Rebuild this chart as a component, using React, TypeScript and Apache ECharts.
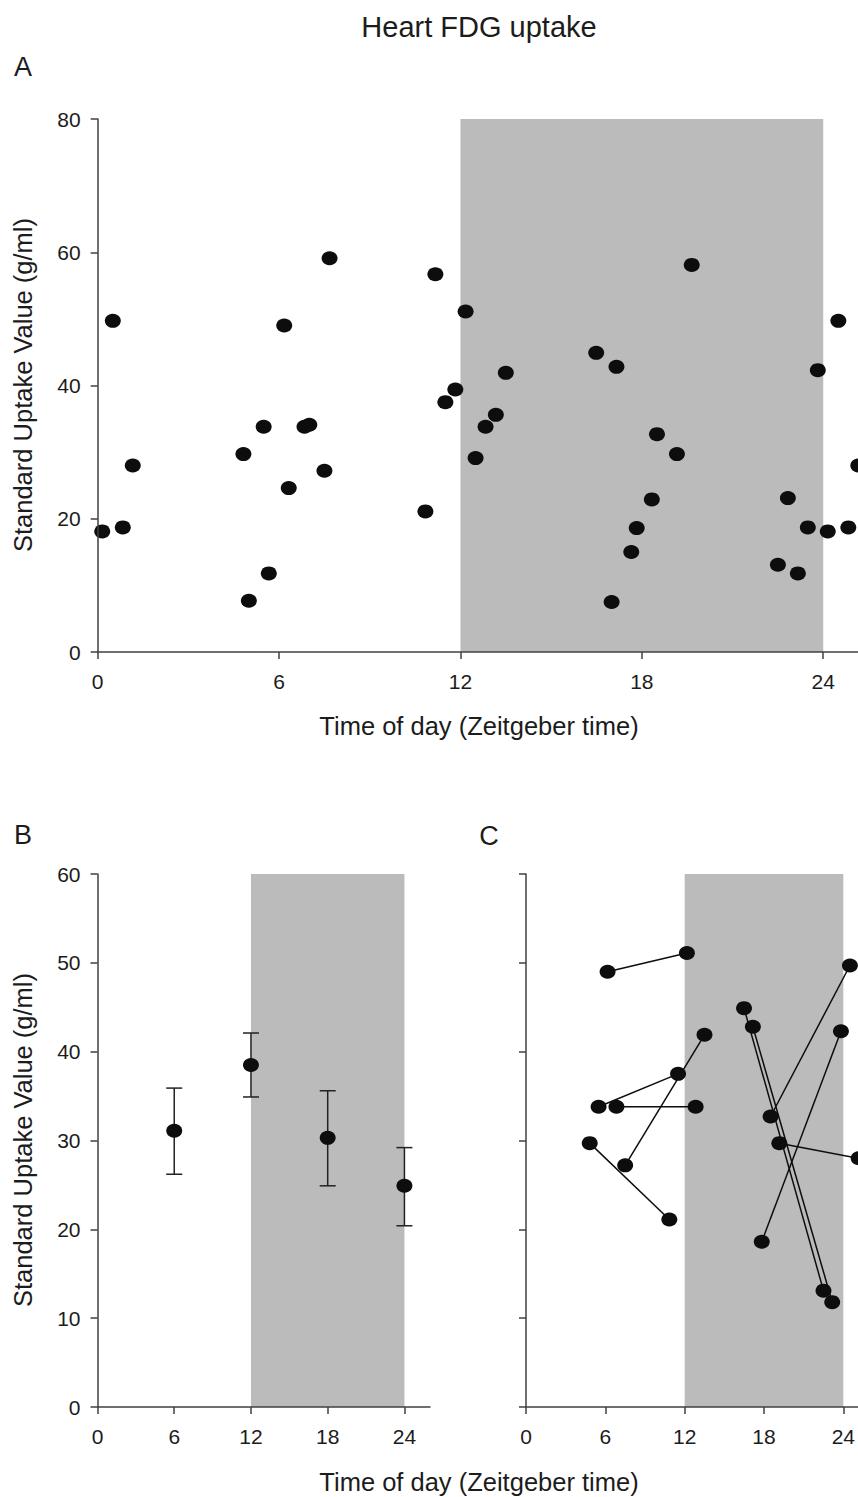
import React, { useEffect, useRef } from "react";
import * as echarts from "echarts";

// ---------- data ----------
const chartTitle = "Heart FDG uptake";
const xAxisTitle = "Time of day (Zeitgeber time)";
const yAxisTitle = "Standard Uptake Value (g/ml)";
const panelLabels = ["A", "B", "C"];

const xTicks = [0, 6, 12, 18, 24];
const aYTicks = [0, 20, 40, 60, 80];
const bcYTicks = [0, 10, 20, 30, 40, 50, 60];
const darkStart = 12;
const darkEnd = 24;

// Panel A: individual measurements (time in h, SUV in g/ml)
const aTime = [
  0.15, 0.5, 0.83, 1.16, 4.82, 5.0, 5.49, 5.66, 6.17, 6.32, 6.84, 7.0, 7.5, 7.67,
  10.84, 11.17, 11.5, 11.83, 12.17, 12.5, 12.83, 13.17, 13.5, 16.49, 17.0, 17.16,
  17.65, 17.83, 18.33, 18.5, 19.16, 19.65, 22.5, 22.83, 23.16, 23.49, 23.82,
  24.15, 24.5, 24.83, 25.16,
];
const aSUV = [
  18.1, 49.7, 18.7, 28.0, 29.7, 7.7, 33.8, 11.8, 49.0, 24.6, 33.8, 34.1, 27.2, 59.1,
  21.1, 56.7, 37.5, 39.4, 51.1, 29.1, 33.8, 35.6, 41.9, 44.9, 7.5, 42.8,
  15.0, 18.6, 22.9, 32.7, 29.7, 58.1, 13.1, 23.1, 11.8, 18.7, 42.3,
  18.1, 49.7, 18.7, 28.0,
];

// Panel B: group means with error bars
const bTime = [6, 12, 18, 24];
const bMean = [31.1, 38.5, 30.3, 24.9];
const bUpper = [35.9, 42.1, 35.6, 29.2];
const bLower = [26.2, 34.9, 24.9, 20.4];

// Panel C: paired measurements 6 h apart
const cFromTime = [6.17, 5.49, 6.84, 4.82, 7.5, 16.49, 17.16, 18.5, 17.83, 19.16];
const cFromSUV = [49.0, 33.8, 33.8, 29.7, 27.2, 44.9, 42.8, 32.7, 18.6, 29.7];
const cToTime = [12.17, 11.5, 12.83, 10.84, 13.5, 22.5, 23.16, 24.5, 23.82, 25.16];
const cToSUV = [51.1, 37.5, 33.8, 21.1, 41.9, 13.1, 11.8, 49.7, 42.3, 28.0];

// ---------- styles ----------
const FONT = "Liberation Sans, Arial, sans-serif";
const AXIS_COLOR = "#404040";
const TEXT_COLOR = "#1c1c1c";
const DOT_COLOR = "#0d0d0d";
const BAND_COLOR = "#bbbbbb";
const DOT_SIZE = [16, 14];

function makeXAxis(gridIndex: number, max: number, labelMargin: number) {
  return {
    type: "value",
    gridIndex,
    min: 0,
    max,
    z: 10,
    splitLine: { show: false },
    axisLine: { show: true, onZero: false, lineStyle: { color: AXIS_COLOR, width: 1.5 } },
    axisTick: { show: true, length: 7, customValues: xTicks, lineStyle: { color: AXIS_COLOR, width: 1.5 } },
    axisLabel: { customValues: xTicks, fontSize: 21, color: TEXT_COLOR, fontFamily: FONT, margin: labelMargin },
  };
}

function makeYAxis(gridIndex: number, ticks: number[], showLabels: boolean) {
  return {
    type: "value",
    gridIndex,
    min: ticks[0],
    max: ticks[ticks.length - 1],
    z: 10,
    splitLine: { show: false },
    axisLine: { show: true, onZero: false, lineStyle: { color: AXIS_COLOR, width: 1.5 } },
    axisTick: { show: true, length: 7, customValues: ticks, lineStyle: { color: AXIS_COLOR, width: 1.5 } },
    axisLabel: { show: showLabels, customValues: ticks, fontSize: 21, color: TEXT_COLOR, fontFamily: FONT, margin: 17 },
  };
}

function bandSeries(idx: number, yMax: number) {
  return {
    type: "line",
    xAxisIndex: idx,
    yAxisIndex: idx,
    data: [],
    z: 0,
    silent: true,
    markArea: {
      silent: true,
      itemStyle: { color: BAND_COLOR, opacity: 1 },
      data: [[{ xAxis: darkStart, yAxis: 0 }, { xAxis: darkEnd, yAxis: yMax }]],
    },
  };
}

export default function App() {
  const ref = useRef<HTMLDivElement>(null);

  useEffect(() => {
    document.body.style.margin = "0";
    if (!ref.current) return;
    const chart = echarts.init(ref.current, undefined, { renderer: "svg" });

    const pairSeries = cFromTime.map((t, i) => ({
      type: "line",
      xAxisIndex: 2,
      yAxisIndex: 2,
      data: [
        [t, cFromSUV[i]],
        [cToTime[i], cToSUV[i]],
      ],
      symbol: "circle",
      symbolSize: DOT_SIZE,
      showSymbol: true,
      clip: false,
      z: 3,
      lineStyle: { color: DOT_COLOR, width: 1.5 },
      itemStyle: { color: DOT_COLOR, opacity: 1 },
    }));

    const option: any = {
      animation: false,
      backgroundColor: "#ffffff",
      grid: [
        { left: 97.7, top: 119, width: 760.3, height: 533 },
        { left: 97.5, top: 874, width: 332.5, height: 533 },
        { left: 526, top: 874, width: 332, height: 533 },
      ],
      xAxis: [makeXAxis(0, 25.15, 19), makeXAxis(1, 26, 19), makeXAxis(2, 25.1, 19)],
      yAxis: [makeYAxis(0, aYTicks, true), makeYAxis(1, bcYTicks, true), makeYAxis(2, bcYTicks, false)],
      series: [
        bandSeries(0, aYTicks[aYTicks.length - 1]),
        bandSeries(1, bcYTicks[bcYTicks.length - 1]),
        bandSeries(2, bcYTicks[bcYTicks.length - 1]),
        {
          type: "scatter",
          xAxisIndex: 0,
          yAxisIndex: 0,
          data: aTime.map((t, i) => [t, aSUV[i]]),
          symbol: "circle",
          symbolSize: DOT_SIZE,
          clip: false,
          z: 3,
          itemStyle: { color: DOT_COLOR, opacity: 1 },
        },
        {
          type: "custom",
          xAxisIndex: 1,
          yAxisIndex: 1,
          data: bTime.map((t, i) => [t, bLower[i], bUpper[i]]),
          encode: { x: 0, y: [1, 2] },
          z: 2,
          renderItem: (_params: any, api: any) => {
            const x = api.value(0);
            const lo = api.coord([x, api.value(1)]);
            const hi = api.coord([x, api.value(2)]);
            const hw = 8;
            const st = { stroke: "#222222", lineWidth: 1.5 };
            return {
              type: "group",
              children: [
                { type: "line", shape: { x1: lo[0], y1: lo[1], x2: hi[0], y2: hi[1] }, style: st },
                { type: "line", shape: { x1: lo[0] - hw, y1: lo[1], x2: lo[0] + hw, y2: lo[1] }, style: st },
                { type: "line", shape: { x1: hi[0] - hw, y1: hi[1], x2: hi[0] + hw, y2: hi[1] }, style: st },
              ],
            };
          },
        },
        {
          type: "scatter",
          xAxisIndex: 1,
          yAxisIndex: 1,
          data: bTime.map((t, i) => [t, bMean[i]]),
          symbol: "circle",
          symbolSize: DOT_SIZE,
          clip: false,
          z: 3,
          itemStyle: { color: DOT_COLOR, opacity: 1 },
        },
        ...pairSeries,
      ],
      graphic: [
        { type: "text", x: 479, y: 27, style: { text: chartTitle, font: `29px ${FONT}`, fill: TEXT_COLOR, textAlign: "center", textVerticalAlign: "middle" } },
        { type: "text", x: 23, y: 67, style: { text: panelLabels[0], font: `27px ${FONT}`, fill: TEXT_COLOR, textAlign: "center", textVerticalAlign: "middle" } },
        { type: "text", x: 23, y: 835, style: { text: panelLabels[1], font: `27px ${FONT}`, fill: TEXT_COLOR, textAlign: "center", textVerticalAlign: "middle" } },
        { type: "text", x: 489, y: 836, style: { text: panelLabels[2], font: `27px ${FONT}`, fill: TEXT_COLOR, textAlign: "center", textVerticalAlign: "middle" } },
        { type: "text", x: 479, y: 726, style: { text: xAxisTitle, font: `25.5px ${FONT}`, fill: TEXT_COLOR, textAlign: "center", textVerticalAlign: "middle" } },
        { type: "text", x: 479, y: 1482, style: { text: xAxisTitle, font: `25.5px ${FONT}`, fill: TEXT_COLOR, textAlign: "center", textVerticalAlign: "middle" } },
        { type: "text", x: 23, y: 385, rotation: Math.PI / 2, style: { text: yAxisTitle, font: `25.5px ${FONT}`, fill: TEXT_COLOR, textAlign: "center", textVerticalAlign: "middle" } },
        { type: "text", x: 23, y: 1140, rotation: Math.PI / 2, style: { text: yAxisTitle, font: `25.5px ${FONT}`, fill: TEXT_COLOR, textAlign: "center", textVerticalAlign: "middle" } },
      ],
    };

    chart.setOption(option);
    return () => chart.dispose();
  }, []);

  return <div ref={ref} style={{ width: 858, height: 1497 }} />;
}
